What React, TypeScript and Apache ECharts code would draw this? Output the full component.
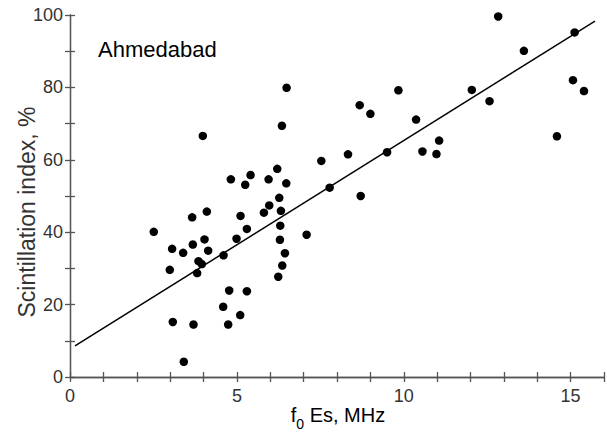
import React, { useEffect, useRef } from "react";
import * as echarts from "echarts";

const fEs = [
  2.51, 2.99, 3.06, 3.08, 3.39, 3.41, 3.66, 3.68, 3.7, 3.81, 3.85, 3.95, 3.98,
  4.03, 4.1, 4.14, 4.59, 4.6, 4.74, 4.77, 4.82, 4.99, 5.1, 5.11, 5.25, 5.3, 5.3,
  5.41, 5.81, 5.95, 5.97, 6.21, 6.24, 6.27, 6.29, 6.3, 6.32, 6.35, 6.36, 6.44,
  6.48, 6.49, 7.09, 7.53, 7.78, 8.33, 8.68, 8.71, 9.0, 9.5, 9.84, 10.37, 10.56,
  10.98, 11.06, 12.04, 12.57, 12.83, 13.6, 14.59, 15.07, 15.12, 15.4,
];
const scint = [
  40.1, 29.6, 35.4, 15.2, 34.3, 4.2, 44.1, 36.6, 14.5, 28.7, 32.0, 31.2, 66.6,
  38.0, 45.7, 34.9, 19.4, 33.6, 14.5, 23.9, 54.6, 38.2, 17.1, 44.5, 53.1, 40.9,
  23.7, 55.8, 45.4, 54.6, 47.4, 57.5, 27.7, 49.5, 37.9, 41.8, 45.9, 69.4, 30.8,
  34.2, 53.5, 79.9, 39.3, 59.7, 52.3, 61.5, 75.1, 50.0, 72.7, 62.1, 79.2, 71.1,
  62.3, 61.6, 65.3, 79.3, 76.2, 99.6, 90.1, 66.5, 82.0, 95.2, 79.0,
];
const fitX = [0.15, 15.73];
const fitY = [8.6, 98.3];
const xLabelTicks = [0, 5, 10, 15];
const yLabelTicks = [0, 20, 40, 60, 80, 100];

const FONT = "'Liberation Sans', Arial, sans-serif";
const AXIS_COLOR = "#555";
const TEXT_COLOR = "#333";

export default function App() {
  const ref = useRef<HTMLDivElement>(null);
  useEffect(() => {
    if (!ref.current) return;
    const chart = echarts.init(ref.current, null, { renderer: "svg" });
    const axisLine = { show: true, lineStyle: { color: AXIS_COLOR, width: 1.3 } };
    const axisTick = { show: true, inside: true, length: 5, lineStyle: { color: AXIS_COLOR, width: 1.3 } };
    chart.setOption({
      animation: false,
      backgroundColor: "#fff",
      grid: { left: 70, right: 1, top: 15, bottom: 60 },
      xAxis: [
        {
          type: "value", min: 0, max: 16, interval: 1,
          axisLine, axisTick, splitLine: { show: false },
          axisLabel: {
            formatter: (v: number) => (xLabelTicks.includes(v) ? String(v) : ""),
            color: TEXT_COLOR, fontSize: 18, fontFamily: FONT, margin: 10,
          },
        },
        {
          type: "value", position: "top", min: 0, max: 16, interval: 1,
          axisLine, axisTick, splitLine: { show: false }, axisLabel: { show: false },
        },
      ],
      yAxis: [
        {
          type: "value", min: 0, max: 100, interval: 10,
          axisLine, axisTick, splitLine: { show: false },
          axisLabel: {
            formatter: (v: number) => (yLabelTicks.includes(v) ? String(v) : ""),
            color: TEXT_COLOR, fontSize: 18, fontFamily: FONT, margin: 7,
          },
        },
        {
          type: "value", position: "right", min: 0, max: 100, interval: 10,
          axisLine, axisTick, splitLine: { show: false }, axisLabel: { show: false },
        },
      ],
      series: [
        {
          type: "line",
          data: fitX.map((x, i) => [x, fitY[i]]),
          symbol: "none",
          lineStyle: { color: "#000", width: 1.5 },
          z: 2,
        },
        {
          type: "scatter",
          data: fEs.map((x, i) => [x, scint[i]]),
          symbolSize: 8.5,
          itemStyle: { color: "#000", opacity: 1 },
          z: 3,
        },
      ],
      graphic: [
        {
          type: "text", left: 98, top: 38,
          style: { text: "Ahmedabad", fontSize: 22, fontFamily: FONT, fill: "#000" },
        },
        {
          type: "text", x: 27, y: 212, rotation: Math.PI / 2,
          style: {
            text: "Scintillation index, %", fontSize: 23, fontFamily: FONT, fill: TEXT_COLOR,
            align: "center", verticalAlign: "middle",
          },
        },
        {
          type: "text", x: 338, y: 405,
          style: {
            text: "{a|f}{sub|0}{a| Es, MHz}",
            align: "center",
            rich: {
              a: { fontSize: 20, fontFamily: FONT, color: TEXT_COLOR, verticalAlign: "top", lineHeight: 22 },
              sub: { fontSize: 14, fontFamily: FONT, color: TEXT_COLOR, verticalAlign: "top", padding: [12, 0, 0, 0], lineHeight: 16 },
            },
          },
        },
      ],
    });
    return () => chart.dispose();
  }, []);
  return <div ref={ref} style={{ position: "fixed", left: 0, top: 0, width: 607, height: 437 }} />;
}
